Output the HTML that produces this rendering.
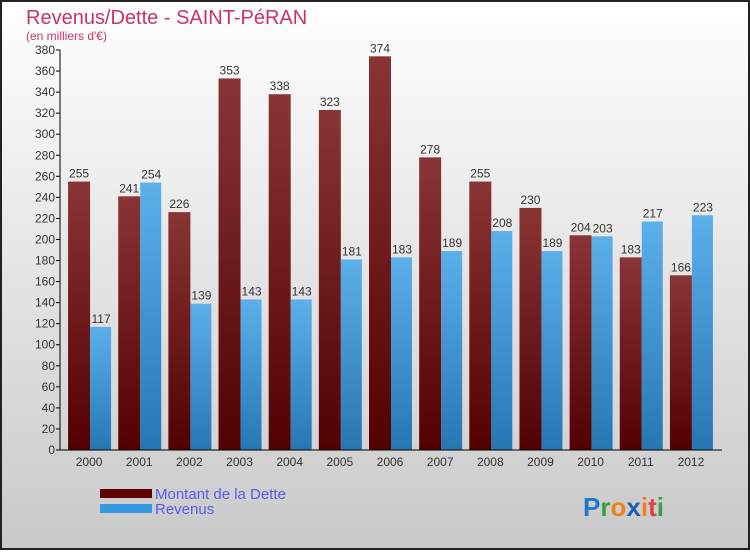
<!DOCTYPE html>
<html><head><meta charset="utf-8"><style>
body{margin:0;width:750px;height:550px;overflow:hidden;font-family:"Liberation Sans","DejaVu Sans",sans-serif}
</style></head><body>
<svg width="750" height="550" xmlns="http://www.w3.org/2000/svg">
<defs>
<linearGradient id="bg" x1="0" y1="0" x2="0" y2="1"><stop offset="0" stop-color="#ffffff"/><stop offset="1" stop-color="#c9c9c9"/></linearGradient>
<linearGradient id="gd" x1="0" y1="0" x2="0" y2="1"><stop offset="0" stop-color="#8a3535"/><stop offset="1" stop-color="#520000"/></linearGradient>
<linearGradient id="gr" x1="0" y1="0" x2="0" y2="1"><stop offset="0" stop-color="#5cb0ea"/><stop offset="1" stop-color="#2676b4"/></linearGradient>
</defs>
<rect x="1" y="1" width="748" height="548" fill="url(#bg)" stroke="#222" stroke-width="2"/>
<text x="26" y="24" font-size="20" fill="#c8336a">Revenus/Dette - SAINT-PéRAN</text>
<text x="26" y="40" font-size="12" fill="#c8336a">(en milliers d'€)</text>
<g id="plot"></g>
<g>
<rect x="100" y="489" width="52" height="9" fill="#600000"/>
<text x="155" y="499" font-size="15" fill="#5a5aee">Montant de la Dette</text>
<rect x="100" y="504" width="52" height="9" fill="#3399e0"/>
<text x="155" y="514" font-size="15" fill="#5a5aee">Revenus</text>
</g>
<text x="583" y="516" font-size="26" font-weight="bold"><tspan fill="#1a7acc">P</tspan><tspan fill="#3aa040">r</tspan><tspan fill="#f08020">o</tspan><tspan fill="#1a5fb0">x</tspan><tspan fill="#f08020">i</tspan><tspan fill="#e04040">t</tspan><tspan fill="#3aa040">i</tspan></text>
</svg>
<script>
const years=["2000","2001","2002","2003","2004","2005","2006","2007","2008","2009","2010","2011","2012"];
const dette=[255,241,226,353,338,323,374,278,255,230,204,183,166];
const revenus=[117,254,139,143,143,181,183,189,208,189,203,217,223];
const yTicks=[0,20,40,60,80,100,120,140,160,180,200,220,240,260,280,300,320,340,360,380];
const NS="http://www.w3.org/2000/svg";
const g=document.getElementById('plot');
const x0=60,x1=722,yb=450,yt=50,ymax=380;
const y=v=>yb-(v/ymax)*(yb-yt);
const step=(x1-x0-10)/years.length;
const cx=i=>x0+4+step*(i+0.5);
function mk(t,a,txt){const e=document.createElementNS(NS,t);for(const k in a)e.setAttribute(k,a[k]);if(txt!==undefined)e.textContent=txt;g.appendChild(e);return e;}
yTicks.forEach(v=>{
 let l=mk('line',{x1:x0-4,x2:x0,y1:y(v),y2:y(v),stroke:'#000'});
 
 
 let t=mk('text',{x:x0-5,y:y(v)+4,'font-size':12,'text-anchor':'end',fill:'#333'},v);
 
 
});
years.forEach((yr,i)=>{
 const c=cx(i);
 let b=mk('rect',{x:c-21,y:y(dette[i]),width:22,height:yb-y(dette[i]),fill:'url(#gd)'});
 
 
 let r=mk('rect',{x:c+1,y:y(revenus[i]),width:21,height:yb-y(revenus[i]),fill:'url(#gr)'});
 
 
 let t1=mk('text',{x:c-10,y:y(dette[i])-4,'font-size':12,'text-anchor':'middle',fill:'#333'},dette[i]);
 
 
 let t2=mk('text',{x:c+12,y:y(revenus[i])-4,'font-size':12,'text-anchor':'middle',fill:'#333'},revenus[i]);
 
 
 let xl=mk('text',{x:c,y:466,'font-size':12,'text-anchor':'middle',fill:'#333'},yr);
 
 
});
let ax=mk('line',{x1:x0,x2:x0,y1:yt,y2:yb,stroke:'#000'});


let bx=mk('line',{x1:x0,x2:x1,y1:yb,y2:yb,stroke:'#000'});


</script>
</body></html>
